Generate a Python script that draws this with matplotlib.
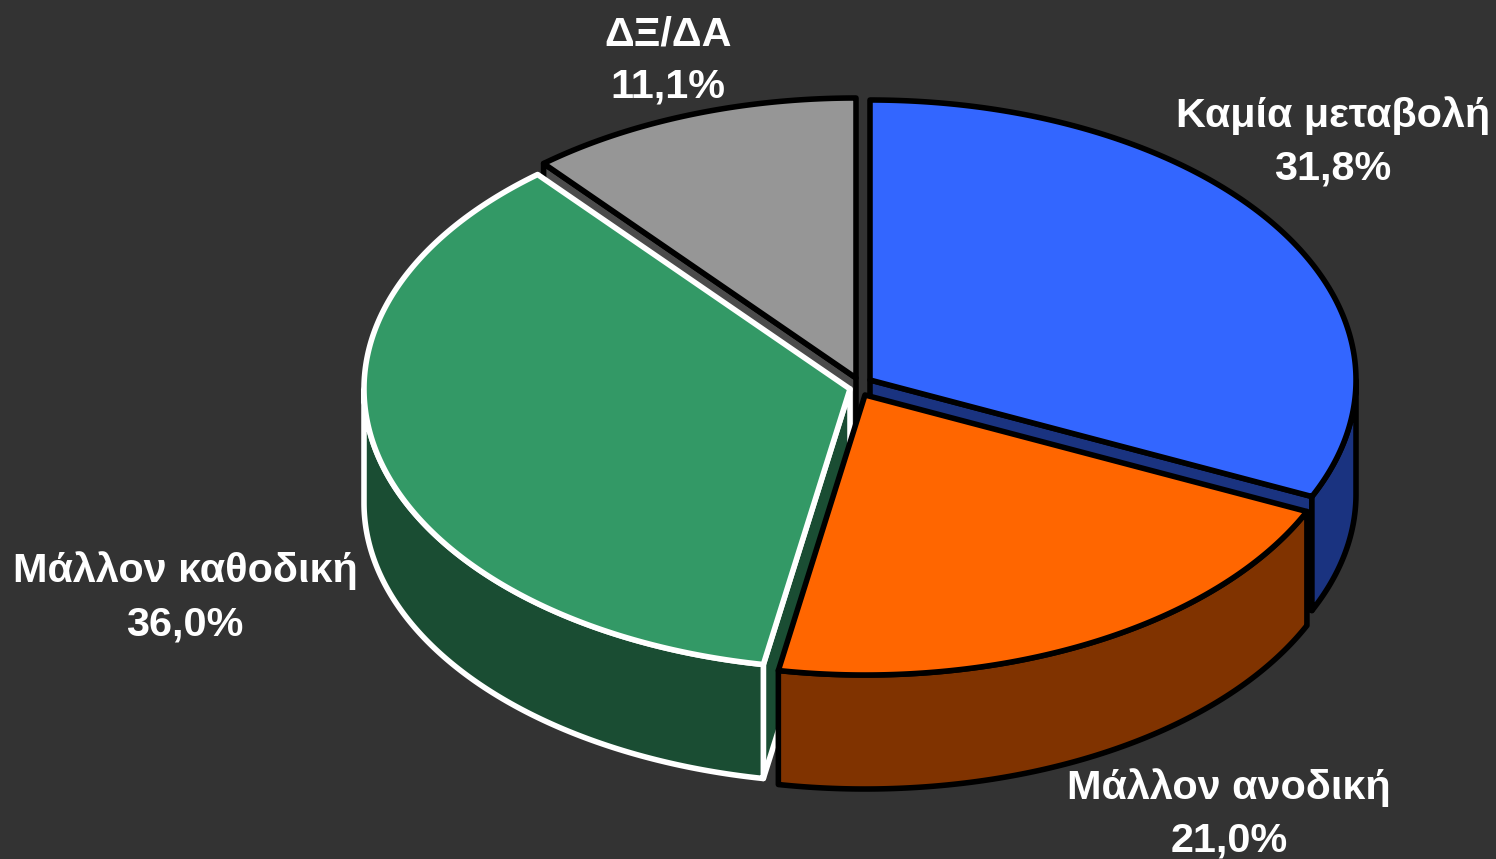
import numpy as np
import matplotlib
matplotlib.use("Agg")
import matplotlib.pyplot as plt
from matplotlib.patches import Polygon

categories = ["Καμία μεταβολή", "Μάλλον ανοδική", "Μάλλον καθοδική", "ΔΞ/ΔΑ"]
values = [31.8, 21.0, 36.0, 11.1]
top_colors = ["#3366ff", "#ff6600", "#339966", "#969696"]
side_colors = ["#1a3380", "#803300", "#1a4d33", "#4b4b4b"]
edge_colors = ["black", "black", "white", "black"]
apexes = [(870, 380), (865, 395), (850, 389), (856, 378)]
label_pos = [(1333, 116), (1229, 788), (185, 571), (668, 34)]

RX, RY = 486, 280
DEPTH = 114
LW = 4.0

plt.rcParams["font.family"] = ["Liberation Sans", "DejaVu Sans"]


def rim(apex, a0, a1):
    # angles in degrees, clockwise from 12 o'clock
    t = np.radians(np.linspace(a0, a1, 200))
    return np.column_stack([apex[0] + RX * np.sin(t), apex[1] - RY * np.cos(t)])


def draw_wedge(ax, apex, a0, a1, top, side, edge, z):
    kw = dict(facecolor=side, edgecolor=edge, linewidth=LW, joinstyle="round", zorder=z)
    # cut faces that look towards the viewer
    if a1 < 180:
        p = rim(apex, a1, a1)[0]
    elif a0 > 180:
        p = rim(apex, a0, a0)[0]
    else:
        p = None
    if p is not None:
        face = [apex, p, p + [0, DEPTH], np.array(apex) + [0, DEPTH]]
        ax.add_patch(Polygon(face, closed=True, **kw))
    # outer wall, front half only
    lo, hi = max(a0, 90), min(a1, 270)
    if lo < hi:
        arc = rim(apex, lo, hi)
        ax.add_patch(Polygon(np.vstack([arc, arc[::-1] + [0, DEPTH]]), closed=True, **kw))
    top_pts = np.vstack([[apex], rim(apex, a0, a1)])
    ax.add_patch(Polygon(top_pts, closed=True, facecolor=top, edgecolor=edge,
                         linewidth=LW, joinstyle="round", zorder=z + 0.5))


fig = plt.figure(figsize=(14.96, 8.59), dpi=100, facecolor="#333333")
ax = fig.add_axes([0, 0, 1, 1])
ax.set_xlim(0, 1496)
ax.set_ylim(859, 0)
ax.axis("off")

angles = np.concatenate([[0], np.cumsum(values)]) / sum(values) * 360
order = [3, 2, 0, 1]  # back to front
for z, i in enumerate(order):
    draw_wedge(ax, apexes[i], angles[i], angles[i + 1], top_colors[i],
               side_colors[i], edge_colors[i], z + 1)

for name, val, (x, y) in zip(categories, values, label_pos):
    ax.text(x, y, name, color="white", fontsize=29.8, fontweight="bold",
            ha="center", va="center", zorder=10)
    ax.text(x, y + 53, f"{val:.1f}%".replace(".", ","), color="white", fontsize=29.8,
            fontweight="bold", ha="center", va="center", zorder=10)

fig.savefig("out.png", dpi=100, facecolor=fig.get_facecolor())
